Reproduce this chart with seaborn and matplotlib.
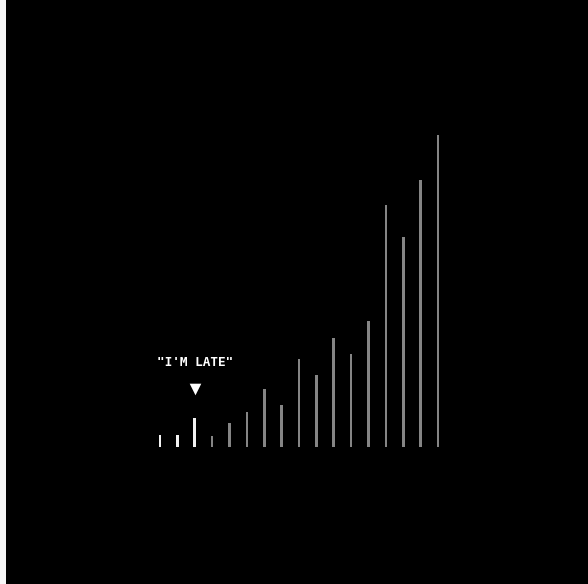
import matplotlib
matplotlib.use("Agg")
import matplotlib.pyplot as plt
import seaborn as sns
import pandas as pd

# Data (bar heights, arbitrary units)
steps = [str(i) for i in range(1, 18)]
values = [12, 12, 29, 11, 24, 35, 58, 42, 88, 72, 109, 93, 126, 242, 210, 267, 312]
bar_colors = ["#f2f2f2", "#f2f2f2", "#f2f2f2"] + ["#858585"] * 14
label_text = "\"I'M LATE\""
label_index = 2

df = pd.DataFrame({"step": steps, "value": values})

sns.set_theme(style="dark")
fig = plt.figure(figsize=(5.88, 5.84), dpi=100, facecolor="#f7f7f7")
ax = fig.add_axes([6 / 588, 0, 582 / 588, 1])
ax.set_facecolor("black")

sns.barplot(data=df, x="step", y="value", hue="step", palette=bar_colors,
            width=0.15, linewidth=0, legend=False, ax=ax, saturation=1)

spacing = 17.375
ax.set_xlim(-154 / spacing, 16 + 150 / spacing)
ax.set_ylim(-137, 447)
ax.set_xticks([])
ax.set_yticks([])
ax.set_xlabel("")
ax.set_ylabel("")
ax.grid(False)
for s in ax.spines.values():
    s.set_visible(False)

ax.scatter([label_index], [values[label_index] + 29], marker="v", s=70,
           color="white", linewidths=0, zorder=5)
ax.text(label_index, values[label_index] + 56, label_text, color="white",
        ha="center", va="center", fontsize=9.2, family="DejaVu Sans Mono",
        fontweight="bold")

fig.savefig("out.png", dpi=100, facecolor=fig.get_facecolor())
